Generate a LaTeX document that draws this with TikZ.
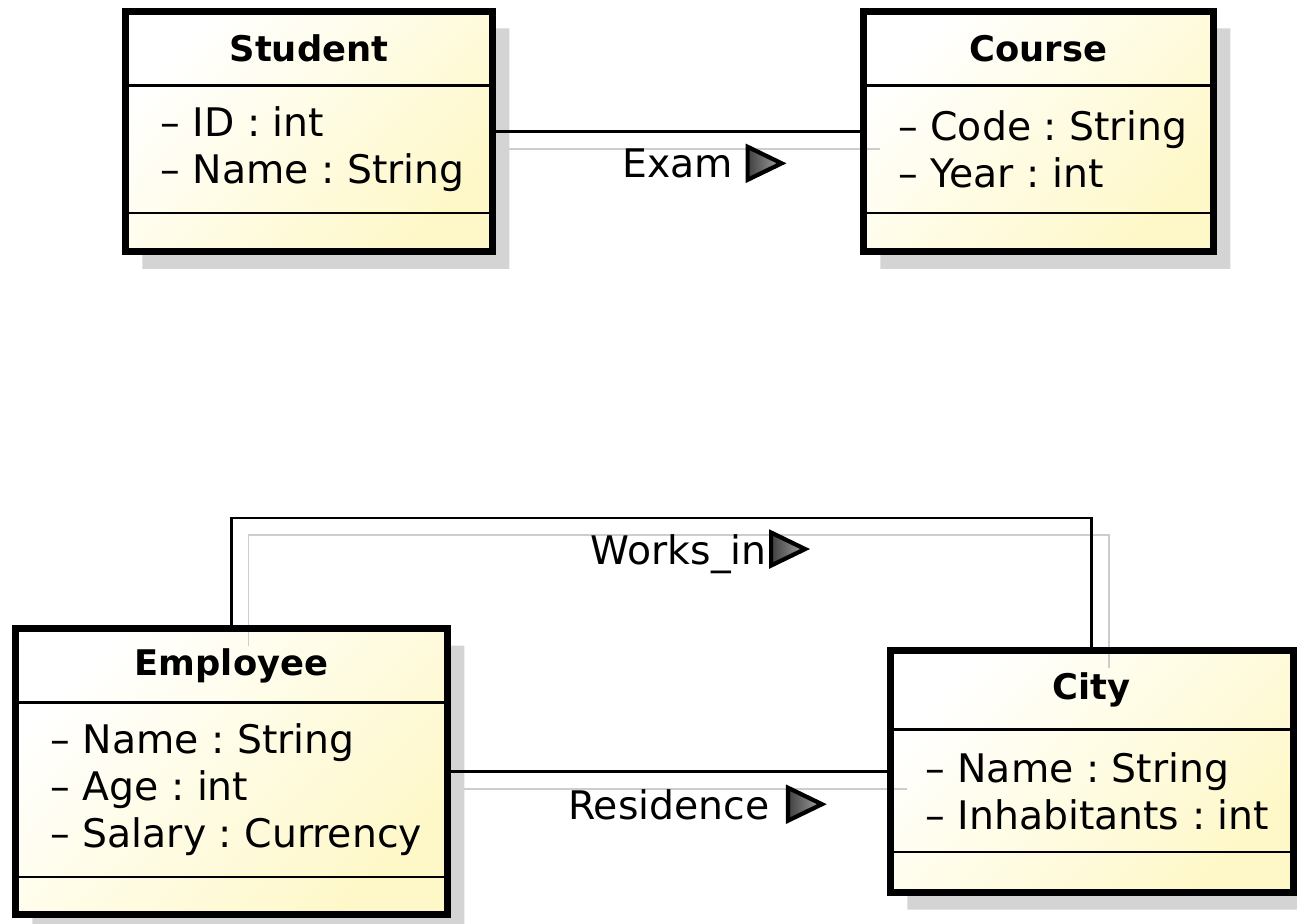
\documentclass[tikz,border=0pt]{standalone}
\usepackage{fontspec}
\setmainfont{DejaVu Sans}
\usetikzlibrary{shapes.multipart, shapes.geometric, shadows, positioning}

\definecolor{classyellow}{RGB}{254,248,200}
\definecolor{linkgray}{RGB}{205,205,205}

\newcommand{\attrfont}{\fontsize{22.4}{26.8}\selectfont}
\newcommand{\titlefont}{\fontsize{20.1}{24}\selectfont\bfseries}
\newcommand{\classtitle}[3]{\parbox[c][#1][c]{#2}{\centering\titlefont #3}}
\newcommand{\classattrs}[3]{\parbox[c][#1][c]{#2}{\raggedright\leftskip=0.7cm\attrfont #3}}
\newcommand{\classblank}[2]{\parbox[c][#1][c]{#2}{\mbox{}}}

\tikzstyle{umlclass} = [rectangle split, rectangle split parts=3, draw=black, line width=1.4pt, inner sep=0pt, outer sep=0pt, left color=white, right color=classyellow, shading angle=45, drop shadow={shadow xshift=0.34cm, shadow yshift=-0.34cm, fill=black!17, opacity=1}]
\tikzstyle{border} = [line width=4pt]
\tikzstyle{link} = [line width=1.5pt]
\tikzstyle{linkshade} = [line width=1pt, draw=linkgray, transform canvas={xshift=0.34cm, yshift=-0.34cm}]
\tikzstyle{linklabel} = [font=\attrfont, inner sep=0pt, anchor=base, text depth=0pt]
\tikzstyle{readdir} = [isosceles triangle, isosceles triangle stretches, draw=black, line width=2.4pt, left color=black!75, right color=black!35, minimum width=0.66cm, minimum height=0.68cm, inner sep=0pt]

\frenchspacing

\begin{document}
\begin{tikzpicture}[x=0.02cm, y=-0.02cm]
\useasboundingbox (0,0) rectangle (1297,923);

% Classes
\node (student) [umlclass, anchor=north west] at (125.5,11.5) {\classtitle{1.43cm}{7.34cm}{Student}\nodepart{two}\classattrs{2.5cm}{7.34cm}{-- ID : int\\-- Name : String}\nodepart{three}\classblank{0.73cm}{7.34cm}};
\node (course) [umlclass, right=7.42cm of student] {\classtitle{1.43cm}{7.0cm}{Course}\nodepart{two}\classattrs{2.5cm}{7.0cm}{-- Code : String\\-- Year : int}\nodepart{three}\classblank{0.73cm}{7.0cm}};
\node (employee) [umlclass, anchor=north west] at (15.5,628.5) {\classtitle{1.43cm}{8.64cm}{Employee}\nodepart{two}\classattrs{3.44cm}{8.64cm}{-- Name : String\\-- Age : int\\-- Salary : Currency}\nodepart{three}\classblank{0.71cm}{8.64cm}};
\node (city) [umlclass, right=8.86cm of employee] {\classtitle{1.53cm}{8.06cm}{City}\nodepart{two}\classattrs{2.4cm}{8.06cm}{-- Name : String\\-- Inhabitants : int}\nodepart{three}\classblank{0.76cm}{8.06cm}};

% Shadows of the associations
\draw [linkshade] (student.east) -- (course.west);
\draw [linkshade] (employee.north) -- ++(0,-110.5) -| (city.north);
\draw [linkshade] (employee.east) -- (employee.east -| city.west);

% Borders
\draw [border] (student.north west) rectangle (student.south east);
\draw [border] (course.north west) rectangle (course.south east);
\draw [border] (employee.north west) rectangle (employee.south east);
\draw [border] (city.north west) rectangle (city.south east);

% Associations
\draw [link] (student.east) -- node[linklabel, yshift=-0.92cm] (examlbl) {Exam} (course.west);
\draw [link] (employee.north) -- ++(0,-110.5) -| node[linklabel, pos=0.26, yshift=-0.92cm] (worklbl) {Works\_in} (city.north);
\draw [link] (employee.east) -- node[linklabel, yshift=-0.95cm] (reslbl) {Residence} (employee.east -| city.west);

% Reading directions
\node (examdir) [readdir, right=0.22cm of examlbl] {};
\node (workdir) [readdir, right=0.02cm of worklbl] {};
\node (resdir) [readdir, right=0.3cm of reslbl] {};

\end{tikzpicture}
\end{document}
